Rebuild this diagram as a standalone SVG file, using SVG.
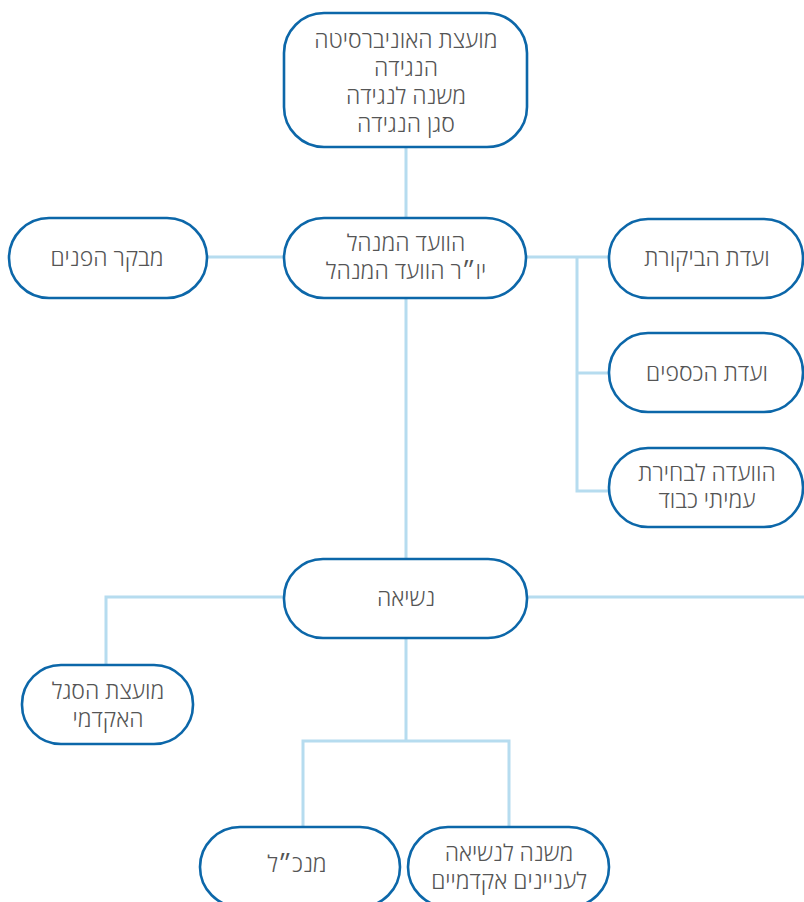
<svg xmlns="http://www.w3.org/2000/svg" width="804" height="902" viewBox="0 0 804 902">
<style>
.n{fill:#fff;stroke:#0c67a9;stroke-width:2.6}
.t{font-family:"Open Sans","Liberation Sans","DejaVu Sans",sans-serif;font-weight:300;font-size:23px;fill:#555;text-anchor:middle;direction:rtl}
.c{fill:none;stroke:#b6dcef;stroke-width:3}
</style>
<rect width="804" height="902" fill="#fff"/>
<g id="connectors">
<path class="c" d="M406 147V218M406 298V559M207 257H284M526 257H609M577 257V491H609M577 373H609"/>
<path class="c" d="M284 597H106V665M527 597H804M406 638V741M303 827V741H509V827"/>
</g>
<g id="board"><rect class="n" x="284" y="13" width="243" height="134" rx="40"/>
<text class="t" x="406" y="48">מועצת האוניברסיטה</text>
<text class="t" x="406" y="76">הנגידה</text>
<text class="t" x="406" y="104">משנה לנגידה</text>
<text class="t" x="406" y="132">סגן הנגידה</text></g>
<g id="exec"><rect class="n" x="284" y="218" width="242" height="80" rx="40"/>
<text class="t" x="406" y="251">הוועד המנהל</text>
<text class="t" x="406" y="279">יו״ר הוועד המנהל</text></g>
<g id="auditor"><rect class="n" x="9" y="218" width="198" height="80" rx="40"/>
<text class="t" x="107" y="266">מבקר הפנים</text></g>
<g id="audit"><rect class="n" x="609" y="219" width="194" height="79" rx="39"/>
<text class="t" x="707" y="266">ועדת הביקורת</text></g>
<g id="finance"><rect class="n" x="609" y="333" width="194" height="79" rx="39"/>
<text class="t" x="707" y="381">ועדת הכספים</text></g>
<g id="honor"><rect class="n" x="609" y="448" width="194" height="79" rx="39"/>
<text class="t" x="707" y="481">הוועדה לבחירת</text>
<text class="t" x="707" y="508">עמיתי כבוד</text></g>
<g id="president"><rect class="n" x="284" y="559" width="243" height="79" rx="39"/>
<text class="t" x="406" y="606">נשיאה</text></g>
<g id="senate"><rect class="n" x="22" y="665" width="171" height="79" rx="39"/>
<text class="t" x="108" y="699">מועצת הסגל</text>
<text class="t" x="108" y="727">האקדמי</text></g>
<g id="ceo"><rect class="n" x="200" y="827" width="200" height="80" rx="40"/>
<text class="t" x="297" y="872">מנכ״ל</text></g>
<g id="vp"><rect class="n" x="408" y="827" width="201" height="80" rx="40"/>
<text class="t" x="509" y="861">משנה לנשיאה</text>
<text class="t" x="509" y="889">לעניינים אקדמיים</text></g>
</svg>
